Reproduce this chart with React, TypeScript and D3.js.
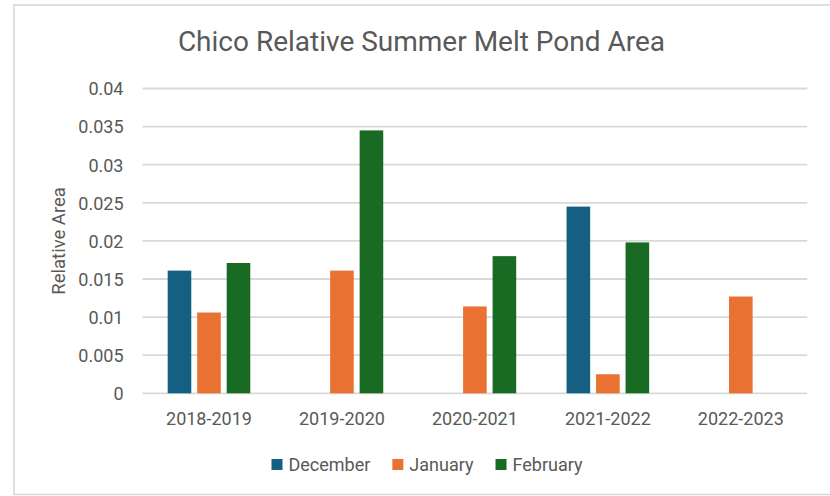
import React, { useMemo } from "react";
import * as d3 from "d3";

// Seasons on the x axis
const seasons = ["2018-2019", "2019-2020", "2020-2021", "2021-2022", "2022-2023"];

// Relative melt pond area per month (null = no observation)
const december: (number | null)[] = [0.0161, null, null, 0.0245, null];
const january: (number | null)[] = [0.0106, 0.0161, 0.0114, 0.0025, 0.0127];
const february: (number | null)[] = [0.0171, 0.0345, 0.018, 0.0198, null];

const seriesNames = ["December", "January", "February"];
const seriesColors = ["#156082", "#E97132", "#196B24"];

const yTicks = [0, 0.005, 0.01, 0.015, 0.02, 0.025, 0.03, 0.035, 0.04];

const W = 830;
const H = 496;
const FONT = "Roboto, 'Open Sans', sans-serif";
const TEXT = "#595959";
const GRID = "#D9D9D9";

function measure(text: string, font: string): number {
  const c = document.createElement("canvas").getContext("2d");
  if (!c) return text.length * 9;
  c.font = font;
  return c.measureText(text).width;
}

export default function App() {
  const series = [december, january, february];

  const plot = { left: 142.5, right: 807.3, top: 88.5, bottom: 393.3 };

  const x0 = d3.scaleBand<string>().domain(seasons).range([plot.left, plot.right]).padding(0);
  const groupWidth = 88.5;
  const x1 = d3
    .scaleBand<string>()
    .domain(seriesNames)
    .range([0, groupWidth])
    .paddingInner(0.2)
    .paddingOuter(0.1);
  const y = d3.scaleLinear().domain([0, 0.04]).range([plot.bottom, plot.top]);
  const fmt = (v: number) => (v === 0 ? "0" : String(+v.toFixed(3)));

  // Legend layout: swatch, gap, label, spacing between items; centred in the chart frame
  const legend = useMemo(() => {
    const sw = 11;
    const gap = 6;
    const between = 22;
    const widths = seriesNames.map((n) => measure(n, `18px ${FONT}`));
    const total =
      widths.reduce((a, b) => a + b, 0) + seriesNames.length * (sw + gap) + between * (seriesNames.length - 1);
    let cx = 427 - total / 2;
    return seriesNames.map((n, i) => {
      const item = { name: n, x: cx, color: seriesColors[i] };
      cx += sw + gap + widths[i] + between;
      return item;
    });
  }, []);

  return (
    <svg
      width={W}
      height={H}
      style={{ position: "absolute", left: 0, top: 0, background: "#fff" }}
      fontFamily={FONT}
    >
      <rect x={0} y={0} width={W} height={H} fill="#fff" />
      {/* chart frame */}
      <rect x={14} y={5} width={W} height={489.5} fill="none" stroke={GRID} strokeWidth={1.6} />

      <text x={421.5} y={51} textAnchor="middle" fontSize={28} fill={TEXT}>
        Chico Relative Summer Melt Pond Area
      </text>

      {/* gridlines and y tick labels */}
      {yTicks.map((t) => (
        <g key={t}>
          <line x1={plot.left} x2={plot.right} y1={y(t)} y2={y(t)} stroke={GRID} strokeWidth={1.8} />
          <text x={123.5} y={y(t) + 6.8} textAnchor="end" fontSize={18} fill={TEXT}>
            {fmt(t)}
          </text>
        </g>
      ))}

      <text
        transform={`translate(65, ${(plot.top + plot.bottom) / 2}) rotate(-90)`}
        textAnchor="middle"
        fontSize={18.5}
        fill={TEXT}
      >
        Relative Area
      </text>

      {/* bars */}
      {seasons.map((s, i) => {
        const gx = (x0(s) as number) + (x0.bandwidth() - groupWidth) / 2;
        return (
          <g key={s}>
            {series.map((vals, k) => {
              const v = vals[i];
              if (v == null) return null;
              return (
                <rect
                  key={seriesNames[k]}
                  x={gx + (x1(seriesNames[k]) as number)}
                  y={y(v)}
                  width={x1.bandwidth()}
                  height={y(0) - y(v)}
                  fill={seriesColors[k]}
                />
              );
            })}
            <text
              x={(x0(s) as number) + x0.bandwidth() / 2}
              y={425}
              textAnchor="middle"
              fontSize={18}
              fill={TEXT}
            >
              {s}
            </text>
          </g>
        );
      })}

      {/* legend */}
      {legend.map((l) => (
        <g key={l.name}>
          <rect x={l.x} y={459} width={11} height={11} fill={l.color} />
          <text x={l.x + 17} y={471} fontSize={18} fill={TEXT}>
            {l.name}
          </text>
        </g>
      ))}
    </svg>
  );
}
